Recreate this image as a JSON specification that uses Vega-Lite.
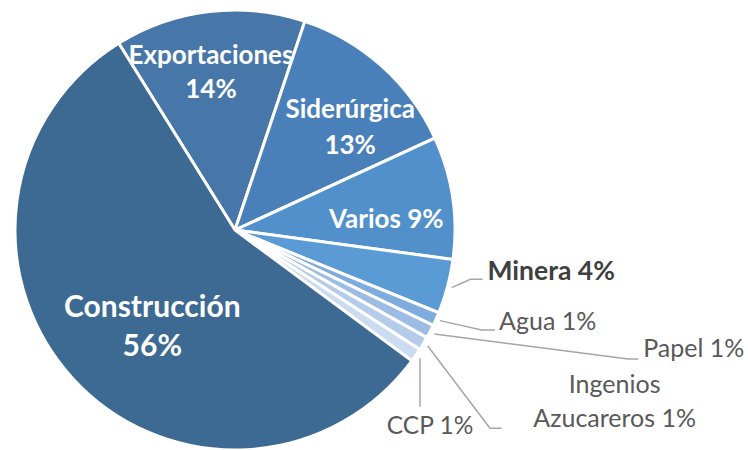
{
  "$schema": "https://vega.github.io/schema/vega-lite/v6.json",
  "width": 470,
  "height": 460,
  "autosize": {"type": "none"},
  "padding": {"left": 0, "top": 0, "right": 278, "bottom": 0},
  "background": "white",
  "config": {"view": {"stroke": null}, "font": "Lato"},
  "datasets": {
    "datos": [
      {"categoria": "Exportaciones", "valor": 14, "n": 1, "etiqueta": "Exportaciones\n14%"},
      {"categoria": "Siderúrgica", "valor": 13, "n": 2, "etiqueta": "Siderúrgica\n13%"},
      {"categoria": "Varios", "valor": 9, "n": 3, "etiqueta": "Varios 9%"},
      {"categoria": "Minera", "valor": 4, "n": 4, "etiqueta": "Minera 4%"},
      {"categoria": "Agua", "valor": 1, "n": 5, "etiqueta": "Agua 1%"},
      {"categoria": "Papel", "valor": 1, "n": 6, "etiqueta": "Papel 1%"},
      {"categoria": "Ingenios Azucareros", "valor": 1, "n": 7, "etiqueta": "Ingenios\nAzucareros 1%"},
      {"categoria": "CCP", "valor": 1, "n": 8, "etiqueta": "CCP 1%"},
      {"categoria": "Construcción", "valor": 56, "n": 9, "etiqueta": "Construcción\n56%"}
    ],
    "guias": [
      {"categoria": "Minera", "p": 1, "gx": 0.985, "gy": -0.262},
      {"categoria": "Minera", "p": 2, "gx": 1.070, "gy": -0.224},
      {"categoria": "Minera", "p": 3, "gx": 1.125, "gy": -0.224},
      {"categoria": "Agua", "p": 1, "gx": 0.932, "gy": -0.412},
      {"categoria": "Agua", "p": 2, "gx": 1.121, "gy": -0.455},
      {"categoria": "Agua", "p": 3, "gx": 1.182, "gy": -0.455},
      {"categoria": "Papel", "p": 1, "gx": 0.906, "gy": -0.473},
      {"categoria": "Papel", "p": 2, "gx": 1.788, "gy": -0.586},
      {"categoria": "Papel", "p": 3, "gx": 1.833, "gy": -0.586},
      {"categoria": "Ingenios Azucareros", "p": 1, "gx": 0.876, "gy": -0.527},
      {"categoria": "Ingenios Azucareros", "p": 2, "gx": 1.159, "gy": -0.901},
      {"categoria": "Ingenios Azucareros", "p": 3, "gx": 1.212, "gy": -0.901},
      {"categoria": "CCP", "p": 1, "gx": 0.841, "gy": -0.583},
      {"categoria": "CCP", "p": 3, "gx": 0.841, "gy": -0.803}
    ]
  },
  "layer": [
    {
      "data": {"name": "datos"},
      "encoding": {
        "theta": {"field": "valor", "type": "quantitative", "stack": true, "scale": {"range": [-0.5568, 5.7264]}},
        "order": {"field": "n", "type": "quantitative"},
        "detail": {"field": "categoria", "type": "nominal"}
      },
      "layer": [
        {
          "mark": {"type": "arc", "outerRadius": 220, "stroke": "white", "strokeWidth": 3},
          "encoding": {
            "color": {
              "field": "categoria", "type": "nominal", "legend": null,
              "scale": {
                "domain": ["Exportaciones", "Siderúrgica", "Varios", "Minera", "Agua", "Papel", "Ingenios Azucareros", "CCP", "Construcción"],
                "range": ["#4677A8", "#4A80B9", "#5190CA", "#5A9BD5", "#7FACDF", "#9CBCE4", "#B4CCEA", "#CCDCF0", "#3D6A93"]
              }
            }
          }
        },
        {
          "mark": {"type": "text", "radius": 150, "dx": -6.5, "dy": -25, "fontSize": 26, "lineHeight": 34, "fontWeight": "bold", "color": "white", "align": "center", "baseline": "middle", "lineBreak": "\n"},
          "encoding": {"text": {"condition": {"test": "datum.categoria === 'Exportaciones'", "field": "etiqueta"}, "value": ""}}
        },
        {
          "mark": {"type": "text", "radius": 150, "dx": 15, "dy": -8, "fontSize": 26, "lineHeight": 36, "fontWeight": "bold", "color": "white", "align": "center", "baseline": "middle", "lineBreak": "\n"},
          "encoding": {"text": {"condition": {"test": "datum.categoria === 'Siderúrgica'", "field": "etiqueta"}, "value": ""}}
        },
        {
          "mark": {"type": "text", "radius": 150, "dx": 3, "dy": 12, "fontSize": 26, "fontWeight": "bold", "color": "white", "align": "center", "baseline": "middle", "lineBreak": "\n"},
          "encoding": {"text": {"condition": {"test": "datum.categoria === 'Varios'", "field": "etiqueta"}, "value": ""}}
        },
        {
          "mark": {"type": "text", "radius": 150, "dx": 27.5, "dy": -24, "fontSize": 30, "lineHeight": 39, "fontWeight": "bold", "color": "white", "align": "center", "baseline": "middle", "lineBreak": "\n"},
          "encoding": {"text": {"condition": {"test": "datum.categoria === 'Construcción'", "field": "etiqueta"}, "value": ""}}
        }
      ]
    },
    {
      "data": {"name": "guias"},
      "encoding": {
        "x": {"field": "gx", "type": "quantitative", "axis": null, "scale": {"domain": [-1.06818, 1.06818], "nice": false, "zero": false}},
        "y": {"field": "gy", "type": "quantitative", "axis": null, "scale": {"domain": [-1.04545, 1.04545], "nice": false, "zero": false}}
      },
      "layer": [
        {
          "mark": {"type": "line", "color": "#A6A6A6", "strokeWidth": 1.5},
          "encoding": {"detail": {"field": "categoria", "type": "nominal"}, "order": {"field": "p", "type": "quantitative"}}
        },
        {
          "transform": [
            {"filter": "datum.p == 3 && datum.categoria == 'Minera'"},
            {"lookup": "categoria", "from": {"data": {"name": "datos"}, "key": "categoria", "fields": ["etiqueta"]}}
          ],
          "mark": {"type": "text", "align": "left", "baseline": "alphabetic", "dx": 5, "dy": 1, "fontSize": 26.5, "fontWeight": "bold", "color": "#404040"},
          "encoding": {"text": {"field": "etiqueta"}}
        },
        {
          "transform": [
            {"filter": "datum.p == 3 && datum.categoria == 'Agua'"},
            {"lookup": "categoria", "from": {"data": {"name": "datos"}, "key": "categoria", "fields": ["etiqueta"]}}
          ],
          "mark": {"type": "text", "align": "left", "baseline": "alphabetic", "dx": 4, "dy": 0, "fontSize": 25, "color": "#595959"},
          "encoding": {"text": {"field": "etiqueta"}}
        },
        {
          "transform": [
            {"filter": "datum.p == 3 && datum.categoria == 'Papel'"},
            {"lookup": "categoria", "from": {"data": {"name": "datos"}, "key": "categoria", "fields": ["etiqueta"]}}
          ],
          "mark": {"type": "text", "align": "left", "baseline": "alphabetic", "dx": 5, "dy": -2, "fontSize": 25, "color": "#595959"},
          "encoding": {"text": {"field": "etiqueta"}}
        },
        {
          "transform": [
            {"filter": "datum.p == 3 && datum.categoria == 'Ingenios Azucareros'"},
            {"lookup": "categoria", "from": {"data": {"name": "datos"}, "key": "categoria", "fields": ["etiqueta"]}}
          ],
          "mark": {"type": "text", "align": "center", "baseline": "alphabetic", "dx": 113, "dy": -35, "fontSize": 25, "lineHeight": 34, "color": "#595959", "lineBreak": "\n"},
          "encoding": {"text": {"field": "etiqueta"}}
        },
        {
          "transform": [
            {"filter": "datum.p == 3 && datum.categoria == 'CCP'"},
            {"lookup": "categoria", "from": {"data": {"name": "datos"}, "key": "categoria", "fields": ["etiqueta"]}}
          ],
          "mark": {"type": "text", "align": "center", "baseline": "alphabetic", "dx": 10, "dy": 27, "fontSize": 24.5, "color": "#595959"},
          "encoding": {"text": {"field": "etiqueta"}}
        }
      ]
    }
  ]
}
